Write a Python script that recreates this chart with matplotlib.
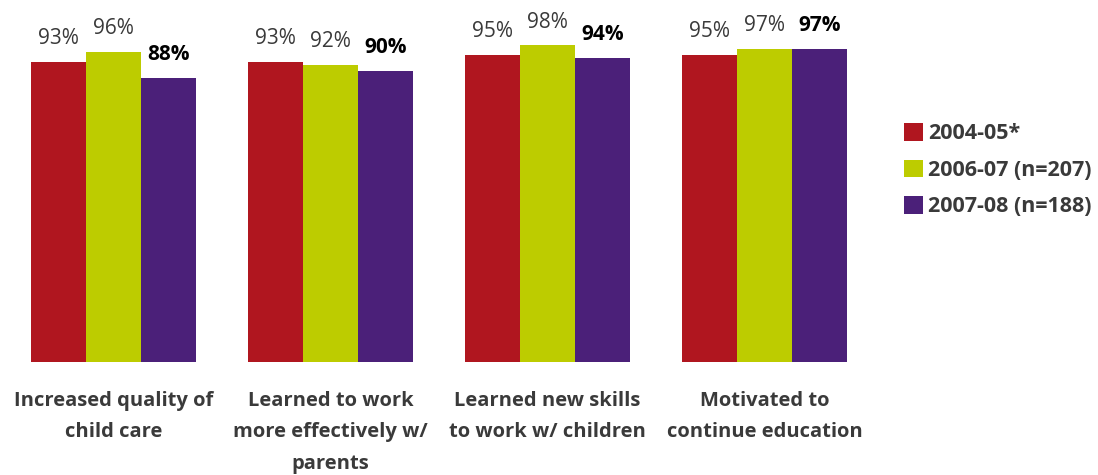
import numpy as np
import matplotlib.pyplot as plt
from matplotlib.patches import Patch

categories = ["Increased quality of\nchild care",
              "Learned to work\nmore effectively w/\nparents",
              "Learned new skills\nto work w/ children",
              "Motivated to\ncontinue education"]
series_names = ["2004-05*", "2006-07 (n=207)", "2007-08 (n=188)"]
values_0405 = [93, 93, 95, 95]
values_0607 = [96, 92, 98, 97]
values_0708 = [88, 90, 94, 97]

colors = ["#B0161F", "#BDCC00", "#4B2079"]
gray = "#3A3A3A"
plt.rcParams['font.family'] = ['Open Sans', 'DejaVu Sans']

fig = plt.figure(figsize=(10.98, 4.75), dpi=100)
ax = fig.add_axes([5/1098, 113/475, 868/1098, 323/475])

x = np.arange(len(categories))
w = 0.254
all_vals = [values_0405, values_0607, values_0708]
for i, vals in enumerate(all_vals):
    pos = x + (i - 1) * w
    ax.bar(pos, vals, width=w, color=colors[i], edgecolor="none")
    for p, v in zip(pos, vals):
        if i == 2:
            ax.text(p, v + 4, f"{v}%", ha="center", va="bottom", fontsize=15,
                    fontweight="bold", color="black")
        else:
            ax.text(p, v + 4, f"{v}%", ha="center", va="bottom", fontsize=15,
                    color=gray)

ax.set_xlim(-0.5, 3.5)
ax.set_ylim(0, 100)
ax.set_xticks(x)
ax.set_xticklabels(categories, fontsize=14.5, fontweight="bold", color=gray,
                   linespacing=1.75)
ax.tick_params(axis="x", length=0, pad=21)
ax.set_yticks([])
for s in ax.spines.values():
    s.set_visible(False)

handles = [Patch(facecolor=c, edgecolor="none") for c in colors]
leg = fig.legend(handles, series_names, loc="upper left",
                 bbox_to_anchor=(885/1098, 1 - 104/475),
                 frameon=False, handlelength=0.85, handleheight=0.85,
                 handletextpad=0.25, labelspacing=0.72,
                 prop={'weight': 'bold', 'size': 15.5})
for t in leg.get_texts():
    t.set_color(gray)

fig.savefig("out.png", dpi=100)
